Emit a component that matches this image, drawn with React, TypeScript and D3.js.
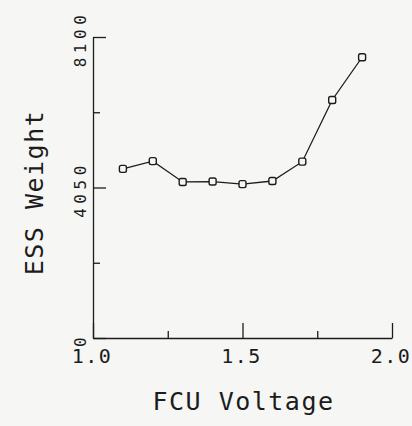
import * as d3 from 'd3'
import { useEffect, useRef } from 'react'

// FCU voltage readings and the matching ESS weight
const voltages = [1.1, 1.2, 1.3, 1.4, 1.5, 1.6, 1.7, 1.8, 1.9]
const weights = [4550, 4760, 4200, 4210, 4140, 4225, 4745, 6405, 7555]

const xMajorTicks = [1.0, 1.5, 2.0]
const xMinorTicks = [1.25, 1.75]
const yMajorTicks = [0, 4050, 8100]
const yMinorTicks = [2025, 6075]

const xTitle = 'FCU Voltage'
const yTitle = 'ESS Weight'

const fmtX = d3.format('.1f')

export default function App() {
  const ref = useRef<SVGSVGElement>(null)

  useEffect(() => {
    if (!ref.current) return
    const svg = d3.select(ref.current)
    svg.selectAll('*').remove()

    const width = 412
    const height = 426
    const margin = { top: 37, right: 20, bottom: 88, left: 93 }
    const ink = '#1c1c1c'
    const mono = '"DejaVu Sans Mono", "Liberation Mono", monospace'

    svg.attr('width', width).attr('height', height)

    // paper
    svg
      .append('rect')
      .attr('width', width)
      .attr('height', height)
      .attr('fill', '#f6f6f4')

    const xScale = d3
      .scaleLinear()
      .domain([1, 2])
      .range([margin.left, width - margin.right])

    const yScale = d3
      .scaleLinear()
      .domain([0, 8100])
      .range([height - margin.bottom, margin.top])

    const base = height - margin.bottom

    // X axis, ticks pointing inward
    const xAxis = svg
      .append('g')
      .attr('transform', `translate(0,${base})`)
      .call(
        d3
          .axisBottom(xScale)
          .tickValues(xMajorTicks)
          .tickSizeInner(-15)
          .tickSizeOuter(0)
          .tickFormat(() => '')
      )
    svg
      .append('g')
      .attr('transform', `translate(0,${base})`)
      .call(
        d3
          .axisBottom(xScale)
          .tickValues(xMinorTicks)
          .tickSizeInner(-7)
          .tickSizeOuter(0)
          .tickFormat(() => '')
      )
      .call(g => g.select('.domain').remove())

    // Y axis
    svg
      .append('g')
      .attr('transform', `translate(${margin.left},0)`)
      .call(
        d3
          .axisLeft(yScale)
          .tickValues(yMajorTicks)
          .tickSizeInner(-13)
          .tickSizeOuter(0)
          .tickFormat(() => '')
      )
    svg
      .append('g')
      .attr('transform', `translate(${margin.left},0)`)
      .call(
        d3
          .axisLeft(yScale)
          .tickValues(yMinorTicks)
          .tickSizeInner(-7)
          .tickSizeOuter(0)
          .tickFormat(() => '')
      )
      .call(g => g.select('.domain').remove())

    svg
      .selectAll('.domain, .tick line')
      .attr('stroke', ink)
      .attr('stroke-width', 1.3)
    xAxis.selectAll('.tick text').remove()

    // X tick labels
    svg
      .selectAll('.x-label')
      .data(xMajorTicks)
      .enter()
      .append('text')
      .attr('class', 'x-label')
      .attr('x', d => xScale(d) - 1)
      .attr('y', base + 25)
      .attr('text-anchor', 'middle')
      .style('font-family', mono)
      .style('font-size', '20px')
      .style('letter-spacing', '1.5px')
      .style('fill', ink)
      .text(d => fmtX(d))

    // Y tick labels (rotated)
    svg
      .selectAll('.y-label')
      .data(yMajorTicks)
      .enter()
      .append('text')
      .attr('class', 'y-label')
      .attr('transform', d => `translate(86,${yScale(d) + 2}) rotate(-90)`)
      .attr('text-anchor', 'middle')
      .style('font-family', mono)
      .style('font-size', '16px')
      .style('letter-spacing', '4.5px')
      .style('fill', ink)
      .text(d => String(d))

    // Line
    const line = d3
      .line<number>()
      .x((_, i) => xScale(voltages[i]))
      .y(d => yScale(d))

    svg
      .append('path')
      .datum(weights)
      .attr('fill', 'none')
      .attr('stroke', ink)
      .attr('stroke-width', 1.3)
      .attr('d', line)

    // Markers
    svg
      .selectAll('.marker')
      .data(weights)
      .enter()
      .append('rect')
      .attr('class', 'marker')
      .attr('x', (_, i) => xScale(voltages[i]) - 3.5)
      .attr('y', d => yScale(d) - 3.5)
      .attr('width', 7)
      .attr('height', 7)
      .attr('rx', 1.8)
      .attr('fill', '#f6f6f4')
      .attr('stroke', ink)
      .attr('stroke-width', 1.4)

    // Axis titles
    svg
      .append('text')
      .attr('x', (xScale(1) + xScale(2)) / 2 + 1)
      .attr('y', 410)
      .attr('text-anchor', 'middle')
      .style('font-family', mono)
      .style('font-size', '25px')
      .style('letter-spacing', '1.5px')
      .style('fill', ink)
      .text(xTitle)

    svg
      .append('text')
      .attr('transform', `translate(43,${(yScale(0) + yScale(8100)) / 2 + 5}) rotate(-90)`)
      .attr('text-anchor', 'middle')
      .style('font-family', mono)
      .style('font-size', '25px')
      .style('letter-spacing', '1.5px')
      .style('fill', ink)
      .text(yTitle)
  }, [])

  return (
    <div style={{ position: 'absolute', left: 0, top: 0 }}>
      <svg ref={ref} style={{ display: 'block' }}></svg>
    </div>
  )
}
